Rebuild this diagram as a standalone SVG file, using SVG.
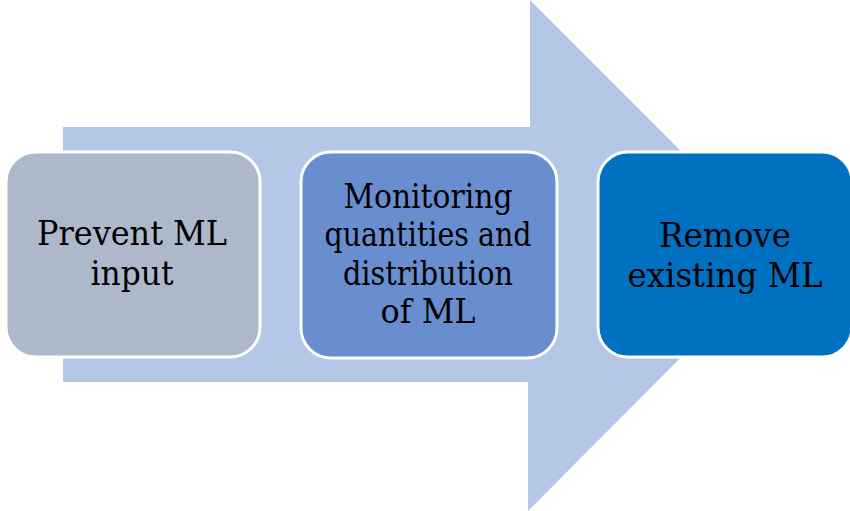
<svg xmlns="http://www.w3.org/2000/svg" width="850" height="511" viewBox="0 0 850 511">
<style>
.box{stroke:#FFFFFF;stroke-width:3}
.t{font-family:"DejaVu Serif","Liberation Serif","Times New Roman",serif;font-size:33px;fill:#000000;text-anchor:middle}
</style>
<rect width="850" height="511" fill="#FFFFFF"/>
<g id="connectors">
<path id="arrow" d="M63,127 H530 V0 L784,254 L528,511 V382 H63 Z" fill="#B4C7E7"/>
</g>
<g id="node1">
<rect class="box" x="6" y="152" width="254" height="205" rx="30" fill="#ADB9CA"/>
<text class="t" x="132" y="245" textLength="190" lengthAdjust="spacingAndGlyphs">Prevent ML</text>
<text class="t" x="132" y="285" textLength="83" lengthAdjust="spacingAndGlyphs">input</text>
</g>
<g id="node2">
<rect class="box" x="301" y="152" width="256" height="206" rx="30" fill="#698ED0"/>
<text class="t" x="428" y="208" textLength="169" lengthAdjust="spacingAndGlyphs">Monitoring</text>
<text class="t" x="428" y="246" textLength="207" lengthAdjust="spacingAndGlyphs">quantities and</text>
<text class="t" x="428" y="285" textLength="170" lengthAdjust="spacingAndGlyphs">distribution</text>
<text class="t" x="428" y="323" textLength="95" lengthAdjust="spacingAndGlyphs">of ML</text>
</g>
<g id="node3">
<rect class="box" x="598" y="152" width="254" height="205" rx="30" fill="#0070C0"/>
<text class="t" x="725" y="247" textLength="132" lengthAdjust="spacingAndGlyphs">Remove</text>
<text class="t" x="725" y="287" textLength="195" lengthAdjust="spacingAndGlyphs">existing ML</text>
</g>
</svg>
